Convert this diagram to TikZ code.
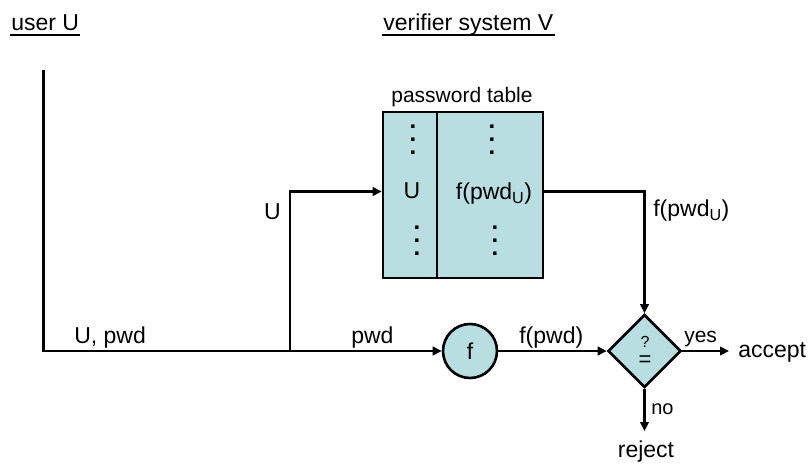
\documentclass[tikz,border=0pt]{standalone}
\usepackage{fontspec}
\setmainfont{Liberation Sans}
\usetikzlibrary{arrows.meta,shapes.geometric}
\definecolor{boxfill}{RGB}{184,222,226}
\begin{document}
\begin{tikzpicture}[x=1pt,y=-1pt,line width=2.6pt,
  every node/.style={inner sep=0pt},
  txt/.style={font=\fontsize{23}{26}\selectfont},
  smalltxt/.style={font=\fontsize{21}{24}\selectfont},
  flow/.style={-{Triangle[length=9pt,width=8.5pt]}},
  shaded/.style={draw,fill=boxfill},
  dotcol/.style={align=center,font=\fontsize{24}{13}\selectfont\bfseries},
  hdrline/.style={line width=2.2pt}]
\useasboundingbox (0,0) rectangle (811,465);

% column headers
\node[txt,anchor=base west] (userhdr) at (10,31) {user U};
\node[txt,anchor=base west] (verhdr) at (382,31) {verifier system V};
\draw[hdrline] ([yshift=-4pt]userhdr.base west) -- ([yshift=-4pt]userhdr.base east);
\draw[hdrline] ([yshift=-4pt]verhdr.base west) -- ([yshift=-4pt]verhdr.base east);

% password table
\node[shaded,minimum width=160pt,minimum height=166pt] (table) at (463,195) {};
\coordinate (divx) at (437,0);
\draw (table.north -| divx) -- (table.south -| divx);
\node[smalltxt,anchor=base] (tabtitle) at (462,103) {password table};
\node[dotcol] (dotsA) at (413,140) {.\\.\\.};
\node[dotcol] (dotsB) at (417,241) {.\\.\\.};
\node[dotcol] (dotsC) at (492,140) {.\\.\\.};
\node[dotcol] (dotsD) at (495,241) {.\\.\\.};
\node[txt,anchor=base] (tabU) at (412,199) {U};
\node[txt,anchor=base] (tabF) at (494,200) {f(pwd\textsubscript{U})};

% hash function and comparison
\node[shaded,circle,minimum size=54pt,txt] (fnode) at (470,351) {f};
\node[shaded,diamond,minimum width=73pt,minimum height=73pt] (dia) at (644.5,351) {};
\node[font=\fontsize{16}{18}\selectfont] (qmark) at (645,342) {?};
\node[font=\fontsize{22}{24}\selectfont] (eqmark) at (645,361) {=};

% outcomes
\node[txt,anchor=base west,inner xsep=8pt] (accept) at (729,357) {accept};
\node[txt,anchor=base,inner ysep=8pt] (reject) at (646,457) {reject};

% user side and message routing
\coordinate (utop) at (43.5,70);
\coordinate (ucorner) at (43.5,351);
\coordinate (branch) at (290,351);
\coordinate (bturn) at (290,191.5);
\draw[flow] (utop) -- (ucorner) -- (fnode);
\draw[flow] (branch) -- (bturn) -- (bturn -| table.west);
\draw[flow] (bturn -| table.east) -| (dia);
\draw[flow] (fnode) -- (dia);
\draw[flow] (dia.east) -- (dia.east -| accept.west);
\draw[flow] (dia.south) -- (dia.south |- reject.north);

% connector labels
\node[txt,anchor=base east] (lblU) at (282,220) {U};
\node[txt,anchor=base west] (lblUpwd) at (73,343) {U, pwd};
\node[txt,anchor=base west] (lblpwd) at (350,343) {pwd};
\node[txt,anchor=base west] (lblfpwd) at (518,343) {f(pwd)};
\node[txt,anchor=base west] (lblfpwdU) at (652,217) {f(pwd\textsubscript{U})};
\node[smalltxt,anchor=base west] (lblyes) at (683,342) {yes};
\node[font=\fontsize{20}{24}\selectfont,anchor=base west] (lblno) at (650,414) {no};
\end{tikzpicture}
\end{document}
